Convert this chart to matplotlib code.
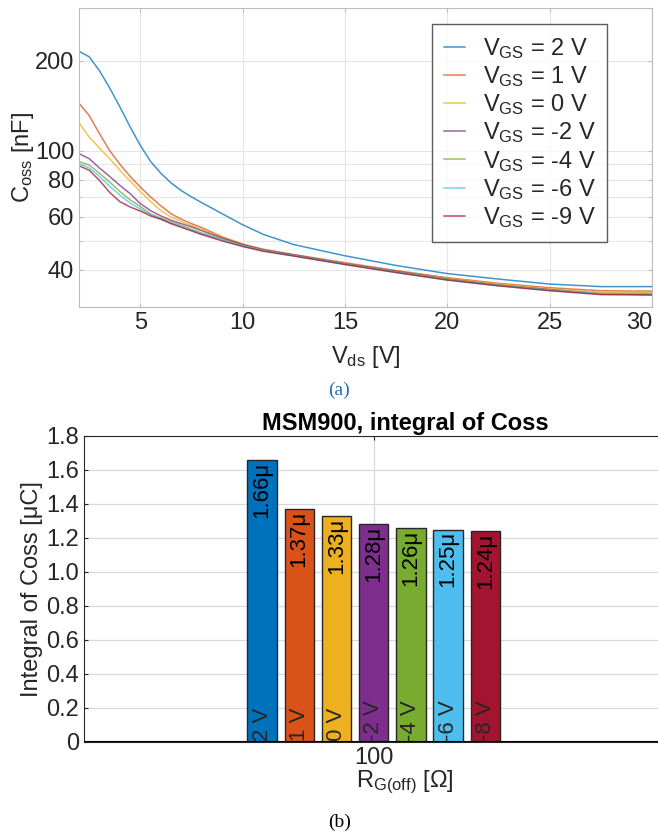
import numpy as np
import matplotlib
matplotlib.use("Agg")
from matplotlib import pyplot as plt
from matplotlib.ticker import FixedLocator, FixedFormatter, NullFormatter

plt.rcParams['font.family'] = ['Liberation Sans', 'DejaVu Sans']
plt.rcParams['mathtext.fontset'] = 'custom'
plt.rcParams['mathtext.rm'] = 'Liberation Sans'

# ---- (a) Coss vs Vds ----
vds = [2, 2.5, 3, 3.5, 4, 4.5, 5, 5.5, 6, 6.5, 7, 7.5, 8, 9, 10, 11, 12.5, 15, 17.5, 20, 22.5, 25, 27.5, 30]
coss_2 = [215, 206, 185, 162, 140, 120, 104, 92, 84, 78, 73.5, 70, 67, 61.5, 56.5, 52.5, 48.5, 44.5, 41.3, 38.8, 37.2, 35.8, 35.1, 35.1]
coss_1 = [144, 131, 114, 100, 90, 82, 75.5, 70, 65.4, 61.5, 59, 57, 55.3, 51.5, 48.7, 46.8, 44.9, 42.2, 39.7, 37.6, 36, 34.8, 34, 33.9]
coss_0 = [124, 111, 102, 94, 86, 79, 73, 67.5, 63, 60, 58, 56.2, 54.6, 51.3, 48.6, 46.7, 44.8, 42, 39.5, 37.4, 35.8, 34.5, 33.6, 33.6]
coss_m2 = [97.7, 94, 87.5, 82, 76.5, 71.8, 66.5, 63, 60.5, 58.5, 57, 55.6, 54, 51, 48.5, 46.6, 44.8, 41.9, 39.5, 37.2, 35.5, 34.3, 33.2, 33.0]
coss_m4 = [92, 89.5, 84, 78.5, 73, 68.5, 65, 61.5, 59.5, 57.8, 56.2, 54.6, 53, 50.5, 48.2, 46.4, 44.6, 41.8, 39.3, 37.1, 35.5, 34.2, 33.3, 33.3]
coss_m6 = [90.5, 87.5, 82, 76, 71, 66.8, 63.8, 61, 59, 57.2, 55.7, 54.2, 52.7, 50.3, 48, 46.3, 44.5, 41.7, 39.2, 37, 35.4, 34.1, 33.2, 33.2]
coss_m9 = [89, 86, 79.5, 72.5, 67.5, 64.8, 62.8, 60.5, 59, 57, 55.4, 53.9, 52.4, 49.9, 47.8, 46.1, 44.4, 41.6, 39.1, 36.9, 35.3, 34.0, 33.0, 32.9]
vgs_a = ['2', '1', '0', '-2', '-4', '-6', '-9']
ytick_a = [40, 60, 80, 100, 200]
ygrid_a = [30, 50, 70, 90, 300]

# ---- (b) integral of Coss ----
vgs_b = ['2 V', '1 V', '0 V', '-2 V', '-4 V', '-6 V', '-8 V']
qoss = [1.66, 1.37, 1.33, 1.28, 1.26, 1.25, 1.24]
qoss_lbl = ['1.66μ', '1.37μ', '1.33μ', '1.28μ', '1.26μ', '1.25μ', '1.24μ']

colors = ['#0072BD', '#D95319', '#EDB120', '#7E2F8E', '#77AC30', '#4DBEEE', '#A2142F']
txt = '#262626'

fig = plt.figure(figsize=(6.58, 8.34), dpi=100)

# top plot
ax = fig.add_axes([79/658, 1-307/834, 573/658, 299/834])
curves = [coss_2, coss_1, coss_0, coss_m2, coss_m4, coss_m6, coss_m9]
for c, col, v in zip(curves, colors, vgs_a):
    ax.plot(vds, c, color=col, lw=1.1, alpha=0.75,
            label=r'$\mathregular{V_{GS}}$ = %s V' % v)
ax.set_yscale('log')
ax.set_xlim(2, 30)
ax.set_ylim(30, 300)
ax.yaxis.set_major_locator(FixedLocator(ytick_a))
ax.yaxis.set_major_formatter(FixedFormatter([str(t) for t in ytick_a]))
ax.yaxis.set_minor_locator(FixedLocator(ygrid_a))
ax.yaxis.set_minor_formatter(NullFormatter())
ax.set_xticks([5, 10, 15, 20, 25, 30])
ax.set_xticklabels(['5', '10', '15', '20', '25', '30'])
ax.get_xticklabels()[-1].set_ha('right')
ax.grid(True, which='both', color='#e6e6e6', lw=0.8)
ax.tick_params(which='both', direction='in', colors='#bdbdbd', labelcolor=txt,
               labelsize=17, length=3, right=True, top=True)
ax.tick_params(which='minor', length=2)
for s in ax.spines.values():
    s.set_color('#bdbdbd')
ax.set_xlabel(r'$\mathregular{V_{ds}}$ [V]', fontsize=17, color=txt, labelpad=7)
ax.set_ylabel(r'$\mathregular{C_{oss}}$ [nF]', fontsize=17, color=txt, labelpad=-1)
leg = ax.legend(loc='upper left', bbox_to_anchor=(432/658, 1-24/834),
                bbox_transform=fig.transFigure, fontsize=17, frameon=True,
                fancybox=False, handlelength=0.9, handletextpad=0.75,
                labelspacing=0.14, borderpad=0.5, borderaxespad=0)
leg.get_frame().set_edgecolor('#333333')
leg.get_frame().set_linewidth(1.0)
for t in leg.get_texts():
    t.set_color(txt)
fig.text(339/658, 1-390/834, '(a)', fontsize=14, color='#1f6fb5',
         family='Liberation Serif', ha='center', va='center')

# bottom plot
bx = fig.add_axes([84/658, 1-742/834, 642/658, 306/834])
step = 0.12
xpos = [100 + (i - 3) * step for i in range(len(qoss))]
bx.bar(xpos, qoss, width=0.095, color=colors, edgecolor=txt, lw=1, zorder=3)
for x, q, ql, vl in zip(xpos, qoss, qoss_lbl, vgs_b):
    bx.text(x, q - 0.01, ql, rotation=90, ha='center', va='top',
            fontsize=16, color='black', zorder=4)
    bx.text(x, 0.005, vl, rotation=90, ha='center', va='bottom',
            fontsize=16, color=txt, zorder=4)
bx.set_xlim(99.066, 101.136)
bx.set_ylim(0, 1.8)
bx.set_xticks([100])
bx.set_yticks(np.arange(0, 1.81, 0.2))
bx.set_yticklabels(['0', '0.2', '0.4', '0.6', '0.8', '1.0', '1.2', '1.4', '1.6', '1.8'])
bx.grid(True, color='#d9d9d9', lw=0.9, zorder=0)
bx.set_axisbelow(True)
bx.axhline(0, color='black', lw=1.5, zorder=5)
bx.tick_params(direction='in', colors=txt, labelsize=17, length=3, right=True, top=True)
for s in bx.spines.values():
    s.set_color(txt)
bx.set_title('MSM900, integral of Coss', fontsize=17, fontweight='bold', color='black', pad=4)
bx.set_xlabel(r'$\mathregular{R_{G(off)}}$ [Ω]', fontsize=17, color=txt, labelpad=0)
bx.set_ylabel('Integral of Coss [μC]', fontsize=17, color=txt, labelpad=2)
fig.text(340/658, 1-822/834, '(b)', fontsize=14, color='black',
         family='Liberation Serif', ha='center', va='center')

fig.savefig('out.png', dpi=100)
